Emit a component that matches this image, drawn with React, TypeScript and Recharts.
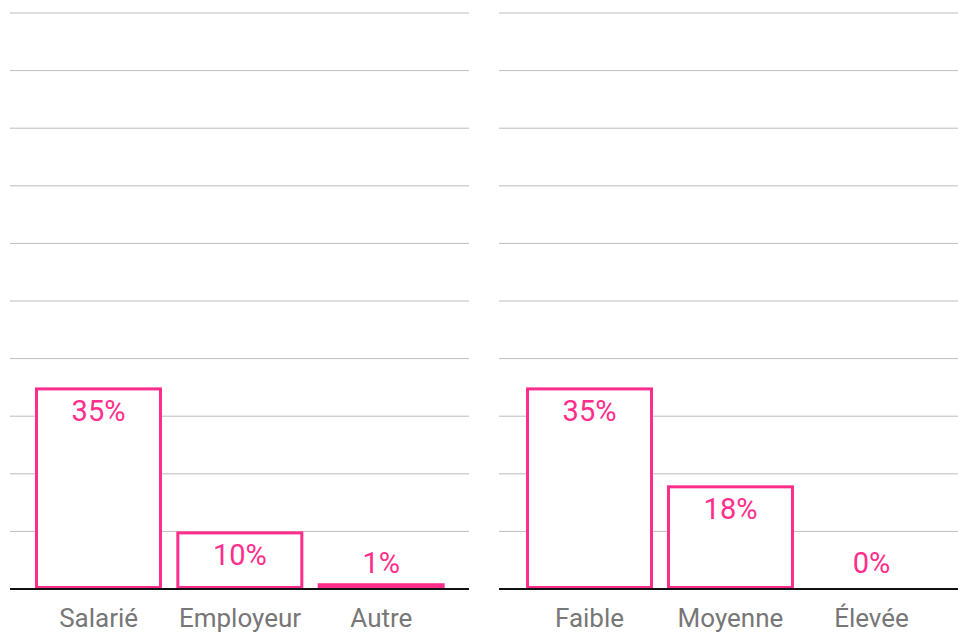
import { BarChart, Bar, XAxis, YAxis, CartesianGrid, LabelList } from 'recharts'

const PINK = '#ff2d8c'

const statusCategories = ['Salarié', 'Employeur', 'Autre']
const statusValues = [35, 10, 1]
const levelCategories = ['Faible', 'Moyenne', 'Élevée']
const levelValues = [35, 18, 0]
const yTicks = [0, 10, 20, 30, 40, 50, 60, 70, 80, 90, 100]

const statusData = statusCategories.map((name, i) => ({ name, value: statusValues[i] }))
const levelData = levelCategories.map((name, i) => ({ name, value: levelValues[i] }))

// outlined bar, stroke kept inside the bar's box
function OutlineBar(props: any) {
  const { x, y, width, height } = props
  if (!height || height <= 0) return null
  const sw = 3
  const h = Math.max(height - sw, 0.01)
  return (
    <rect
      x={x + sw / 2}
      y={y + sw / 2}
      width={width - sw}
      height={h}
      fill="#fff"
      stroke={PINK}
      strokeWidth={sw}
    />
  )
}

function ValueLabel(props: any) {
  const { x, y, width, height, value } = props
  const zero = y + height
  const base = Math.min(y + 34, zero - 16)
  return (
    <text
      x={x + width / 2}
      y={base}
      textAnchor="middle"
      fill={PINK}
      fontSize={29}
      fontFamily="Roboto"
    >
      {`${value}%`}
    </text>
  )
}

function Panel({ data, padding, width, right }: { data: any[]; padding: { left: number; right: number }; width: number; right: number }) {
  return (
    <BarChart
      width={width}
      height={635}
      data={data}
      margin={{ top: 13, right, left: 10, bottom: 0 }}
    >
      <CartesianGrid vertical={false} stroke="#bdbdbd" />
      <XAxis
        dataKey="name"
        height={46}
        padding={padding}
        tickLine={false}
        tickMargin={14}
        axisLine={{ stroke: '#111', strokeWidth: 2 }}
        tick={{ fontSize: 26, fill: '#777', fontFamily: 'Roboto' }}
        interval={0}
      />
      <YAxis hide domain={[0, 100]} ticks={yTicks} />
      <Bar dataKey="value" barSize={127} shape={<OutlineBar />} isAnimationActive={false}>
        <LabelList dataKey="value" content={<ValueLabel />} />
      </Bar>
    </BarChart>
  )
}

export default function App() {
  return (
    <div style={{ position: 'absolute', left: 0, top: 0, width: 958, height: 635, background: '#fff' }}>
      <div style={{ position: 'absolute', left: 0, top: 0 }}>
        <Panel data={statusData} padding={{ left: 18, right: 17 }} width={480} right={11} />
      </div>
      <div style={{ position: 'absolute', left: 489, top: 0 }}>
        <Panel data={levelData} padding={{ left: 20, right: 16 }} width={469} right={0} />
      </div>
    </div>
  )
}
